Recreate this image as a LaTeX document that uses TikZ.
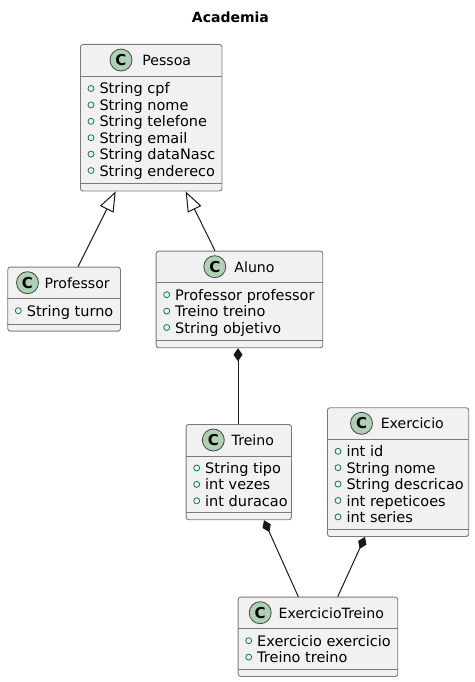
\documentclass[tikz,border=0pt]{standalone}
\usepackage{fontspec}
\setmainfont{DejaVu Sans}
\usetikzlibrary{arrows.meta,calc}
\definecolor{umlborder}{HTML}{181818}
\definecolor{umlframe}{HTML}{7A7A7A}
\definecolor{umlfill}{HTML}{F1F1F1}
\definecolor{umlicon}{HTML}{ADD1B2}
\definecolor{umlvis}{HTML}{038048}
\tikzset{
 classbox/.style={draw=umlframe, fill=umlfill, line width=0.9pt, rounded corners=2.5pt, inner sep=0pt, anchor=north west},
 divider/.style={draw=umlframe, line width=0.9pt},
 cicon/.style={circle, draw=umlborder!80, fill=umlicon, line width=0.8pt, minimum size=22pt, inner sep=0pt, font=\fontsize{15}{15}\selectfont\bfseries},
 cname/.style={anchor=base, inner sep=0pt, font=\fontsize{14.1}{16}\selectfont},
 attr/.style={anchor=base west, inner sep=0pt, font=\fontsize{14.5}{16}\selectfont},
 vis/.style={circle, draw=umlvis, line width=0.8pt, minimum size=6pt, inner sep=0pt},
 rel/.style={draw=umlborder, line width=1pt},
 inherit/.style={rel, -{Triangle[length=20pt, width=15pt, fill=white, line width=1pt]}},
 compose/.style={rel, {Diamond[length=13pt, width=9pt, fill=umlborder]}-},
 titletext/.style={anchor=base, inner sep=0pt, font=\fontsize{14}{16}\selectfont\bfseries},
}
% #1 name, #2 left x, #3 baseline y, #4 text
\newcommand\umlattr[4]{%
  \node[vis] (#1-v) at (#2+11,#3-5.5) {};
  \node[attr] (#1) at (#2+19.3,#3) {#4};
}
% #1 node name
\newcommand\umldividers[1]{%
  \draw[divider] ($(#1.north west)+(0,32)$) -- ($(#1.north east)+(0,32)$);
  \draw[divider] ($(#1.south west)+(0,-7.5)$) -- ($(#1.south east)+(0,-7.5)$);
}
\begin{document}
\begin{tikzpicture}[x=1pt,y=-1pt]
\useasboundingbox (0,0) rectangle (474,682);

\node[titletext] (title) at (230.4,23) {Academia};

% Pessoa
\node[classbox, minimum width=141.5pt, minimum height=146.5pt] (pessoa) at (80,44) {};
\umldividers{pessoa}
\node[cicon] (pessoa-c) at (121,60) {C};
\node[cname] (pessoa-n) at (166.7,65.5) {Pessoa};
\umlattr{pessoa-a1}{80}{94}{String cpf}
\umlattr{pessoa-a2}{80}{110.4}{String nome}
\umlattr{pessoa-a3}{80}{126.8}{String telefone}
\umlattr{pessoa-a4}{80}{143.2}{String email}
\umlattr{pessoa-a5}{80}{159.6}{String dataNasc}
\umlattr{pessoa-a6}{80}{176}{String endereco}

% Professor
\node[classbox, minimum width=112.7pt, minimum height=64pt] (professor) at (7.3,266.7) {};
\umldividers{professor}
\node[cicon] (professor-c) at (27.5,282.7) {C};
\node[cname] (professor-n) at (77.2,288.2) {Professor};
\umlattr{professor-a1}{7.3}{316.2}{String turno}

% Aluno
\node[classbox, minimum width=166.6pt, minimum height=96.6pt] (aluno) at (155.7,250.7) {};
\umldividers{aluno}
\node[cicon] (aluno-c) at (214.8,266.7) {C};
\node[cname] (aluno-n) at (254.5,272.2) {Aluno};
\umlattr{aluno-a1}{155.7}{300.2}{Professor professor}
\umlattr{aluno-a2}{155.7}{316.6}{Treino treino}
\umlattr{aluno-a3}{155.7}{333}{String objetivo}

% Treino
\node[classbox, minimum width=105.3pt, minimum height=95.3pt] (treino) at (185.7,424) {};
\umldividers{treino}
\node[cicon] (treino-c) at (213.3,440) {C};
\node[cname] (treino-n) at (252.8,445.5) {Treino};
\umlattr{treino-a1}{185.7}{473.5}{String tipo}
\umlattr{treino-a2}{185.7}{489.9}{int vezes}
\umlattr{treino-a3}{185.7}{506.3}{int duracao}

% Exercicio
\node[classbox, minimum width=141.3pt, minimum height=128.7pt] (exercicio) at (327,407.3) {};
\umldividers{exercicio}
\node[cicon] (exercicio-c) at (361.5,423.3) {C};
\node[cname] (exercicio-n) at (412.3,428.8) {Exercicio};
\umlattr{exercicio-a1}{327}{456.8}{int id}
\umlattr{exercicio-a2}{327}{473.2}{String nome}
\umlattr{exercicio-a3}{327}{489.6}{String descricao}
\umlattr{exercicio-a4}{327}{506}{int repeticoes}
\umlattr{exercicio-a5}{327}{522.4}{int series}

% ExercicioTreino
\node[classbox, minimum width=159.6pt, minimum height=79.3pt] (extreino) at (237.7,596.7) {};
\umldividers{extreino}
\node[cicon] (extreino-c) at (260.2,612.7) {C};
\node[cname] (extreino-n) at (331.3,618.2) {ExercicioTreino};
\umlattr{extreino-a1}{237.7}{646.2}{Exercicio exercicio}
\umlattr{extreino-a2}{237.7}{662.6}{Treino treino}

% Relations
\draw[inherit] ($(professor.north west)+(70.7,0)$) -- ($(pessoa.south west)+(35.7,0)$);
\draw[inherit] ($(aluno.north west)+(59.3,0)$) -- ($(pessoa.south west)+(105.7,0)$);
\draw[compose] ($(aluno.south west)+(82.3,0)$) -- ($(treino.north west)+(52.3,0)$);
\draw[compose] ($(treino.south west)+(78.3,0)$) -- ($(extreino.north west)+(60.6,0)$);
\draw[compose] ($(exercicio.south west)+(38,0)$) -- ($(extreino.north west)+(100,0)$);
\end{tikzpicture}
\end{document}
